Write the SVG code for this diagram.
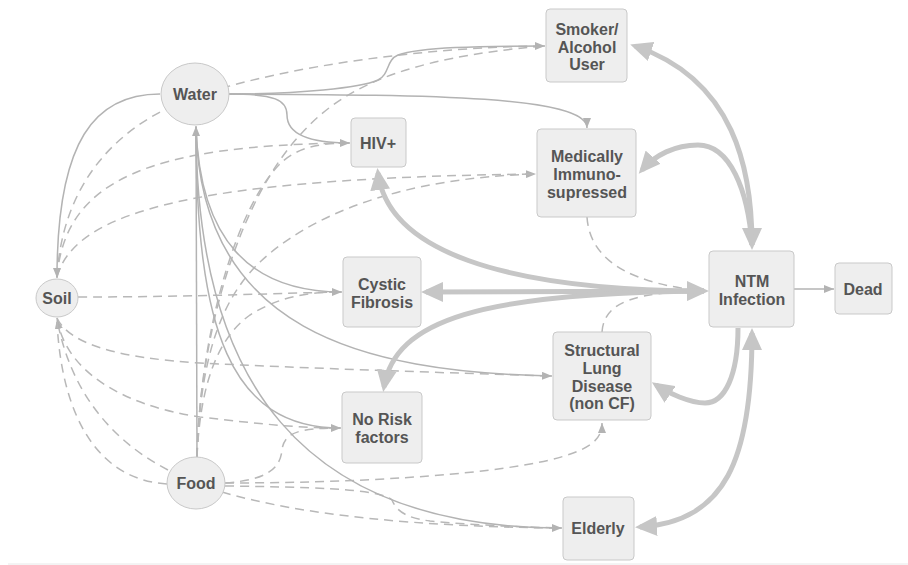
<svg xmlns="http://www.w3.org/2000/svg" width="908" height="565" viewBox="0 0 908 565">
<style>
.n{fill:#eeeeee;stroke:#c9c9c9;stroke-width:1}
.t{font-family:"Liberation Sans",Arial,sans-serif;font-weight:bold;font-size:16px;fill:#555555;text-anchor:middle}
.s{fill:none;stroke:#b3b3b3;stroke-width:1.5}
.d{fill:none;stroke:#b8b8b8;stroke-width:1.5;stroke-dasharray:9 6}
.k{fill:none;stroke:#c6c6c6;stroke-width:5}
</style>
<defs>
<marker id="a" markerUnits="userSpaceOnUse" markerWidth="10" markerHeight="8" refX="10" refY="4" orient="auto"><path d="M0,0 L10,4 L0,8 z" fill="#b3b3b3"/></marker>
<marker id="b" markerUnits="userSpaceOnUse" markerWidth="22" markerHeight="20" refX="17" refY="10" orient="auto-start-reverse"><path d="M0,0 L22,10 L0,20 z" fill="#c6c6c6"/></marker>
</defs>
<line x1="8" y1="564" x2="908" y2="564" stroke="#e8e8e8" stroke-width="1"/>
<g id="connectors">
<!-- dashed -->
<path class="d" d="M57,277 C62,190 110,125 200,95 C290,65 430,47 544,46"/>
<path class="d" d="M57,277 C65,180 150,145 349,143"/>
<path class="d" marker-end="url(#a)" d="M57,277 C75,210 200,178 536,174"/>
<path class="d" d="M78,297 C200,297 280,293 341,292"/>
<path class="d" d="M57,318 C70,345 120,358 200,363 C300,368 450,373 551,376"/>
<path class="d" d="M57,318 C65,370 120,405 200,417 C260,424 300,428 340,428"/>
<path class="d" marker-end="url(#a)" d="M168,470 C110,440 70,390 57,319"/>
<path class="d" d="M167,484 C100,480 62,420 57,322"/>
<path class="d" d="M197,457 C200,330 240,200 300,135 C340,90 400,58 544,46"/>
<path class="d" d="M197,457 C200,330 238,202 283,161 C300,147 320,143 349,143"/>
<path class="d" d="M197,457 C200,360 220,300 260,262 C310,215 400,178 535,174"/>
<path class="d" d="M197,457 C200,390 215,340 250,315 C280,296 310,292 340,292"/>
<path class="d" d="M225,483 C265,480 280,470 282,450 C284,432 300,428 340,428"/>
<path class="d" marker-end="url(#a)" d="M225,483 C350,483 480,476 550,460 C590,450 602,440 602,423"/>
<path class="d" d="M225,486 C300,487 380,488 392,500 C396,510 405,518 430,521 C470,525 520,527 561,528"/>
<path class="d" d="M222,492 C300,515 420,527 561,528"/>
<path class="d" d="M587,217 C590,265 640,285 705,291"/>
<path class="d" d="M602,332 C604,300 640,292 705,291"/>
<!-- solid thin -->
<path class="s" marker-end="url(#a)" d="M160,94 C95,94 57,140 57,278"/>
<path class="s" marker-end="url(#a)" d="M229,94 C300,94 360,88 378,80 C390,74 386,60 398,55 C420,47 480,46 545,46"/>
<path class="s" marker-end="url(#a)" d="M229,94 C420,95 587,95 587,128"/>
<path class="s" marker-end="url(#a)" d="M229,94 C275,94 287,100 287,115 C287,135 310,143 350,143"/>
<path class="s" marker-end="url(#a)" d="M197,457 L196,126"/>
<path class="s" marker-end="url(#a)" d="M196,127 C200,240 250,292 342,292"/>
<path class="s" marker-end="url(#a)" d="M196,127 C200,330 360,372 552,376"/>
<path class="s" marker-end="url(#a)" d="M196,127 C196,330 230,428 341,428"/>
<path class="s" marker-end="url(#a)" d="M196,127 C196,380 300,528 562,528"/>
<path class="s" marker-end="url(#a)" d="M794,289 L834,289"/>
<!-- thick -->
<path class="k" marker-start="url(#b)" marker-end="url(#b)" d="M635,46 C735,80 752,170 752,245"/>
<path class="k" marker-start="url(#b)" d="M642,170 C655,155 675,145 698,145 C730,145 748,190 752,245"/>
<path class="k" marker-start="url(#b)" marker-end="url(#b)" d="M426,292 L704,291"/>
<path class="k" marker-start="url(#b)" d="M378,173 C388,250 500,290 704,291"/>
<path class="k" marker-start="url(#b)" d="M384,387 C395,320 480,293 704,291"/>
<path class="k" marker-start="url(#b)" d="M656,385 C668,393 690,403 705,403 C725,403 738,375 738,328"/>
<path class="k" marker-start="url(#b)" marker-end="url(#b)" d="M640,527 C725,522 752,460 752,333"/>
</g>
<g id="water"><ellipse class="n" cx="195" cy="94" rx="34" ry="31"/><text class="t" x="195" y="100">Water</text></g>
<g id="soil"><ellipse class="n" cx="57" cy="298" rx="21" ry="19"/><text class="t" x="57" y="304">Soil</text></g>
<g id="food"><ellipse class="n" cx="196" cy="483" rx="29" ry="26"/><text class="t" x="196" y="489">Food</text></g>
<g id="smoker"><rect class="n" x="546" y="9" width="81" height="73" rx="4"/><text class="t" x="587" y="35">Smoker/</text><text class="t" x="587" y="53">Alcohol</text><text class="t" x="587" y="70">User</text></g>
<g id="hiv"><rect class="n" x="351" y="118" width="55" height="49" rx="4"/><text class="t" x="378" y="149">HIV+</text></g>
<g id="medically"><rect class="n" x="537" y="129" width="99" height="88" rx="4"/><text class="t" x="587" y="162">Medically</text><text class="t" x="587" y="180">Immuno-</text><text class="t" x="587" y="198">supressed</text></g>
<g id="cf"><rect class="n" x="343" y="257" width="78" height="70" rx="4"/><text class="t" x="382" y="290">Cystic</text><text class="t" x="382" y="308">Fibrosis</text></g>
<g id="ntm"><rect class="n" x="709" y="251" width="85" height="76" rx="4"/><text class="t" x="752" y="287">NTM</text><text class="t" x="752" y="305">Infection</text></g>
<g id="dead"><rect class="n" x="835" y="263" width="57" height="51" rx="4"/><text class="t" x="863" y="295">Dead</text></g>
<g id="structural"><rect class="n" x="553" y="332" width="98" height="88" rx="4"/><text class="t" x="602" y="356">Structural</text><text class="t" x="602" y="374">Lung</text><text class="t" x="602" y="392">Disease</text><text class="t" x="602" y="409">(non CF)</text></g>
<g id="norisk"><rect class="n" x="342" y="392" width="80" height="71" rx="4"/><text class="t" x="382" y="425">No Risk</text><text class="t" x="382" y="443">factors</text></g>
<g id="elderly"><rect class="n" x="563" y="497" width="71" height="63" rx="4"/><text class="t" x="598" y="534">Elderly</text></g>
</svg>
